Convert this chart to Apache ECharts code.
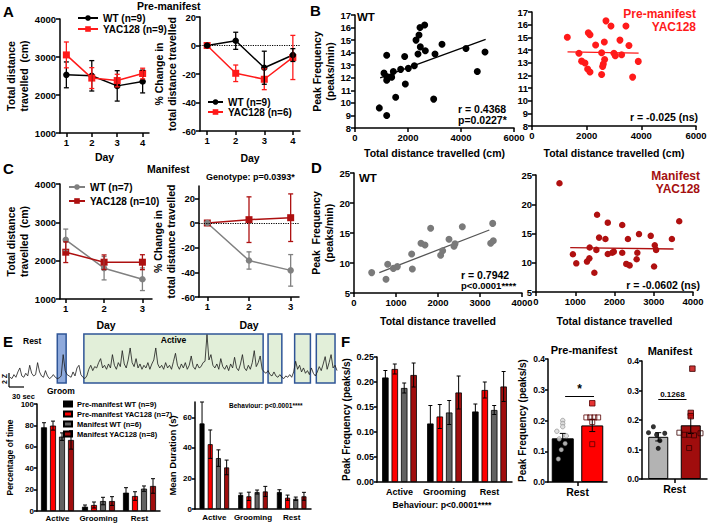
<!DOCTYPE html>
<html>
<head>
<meta charset="utf-8">
<title>Figure</title>
<script src="https://cdn.jsdelivr.net/npm/echarts@6.0.0/dist/echarts.min.js"></script>
<style>
html,body{margin:0;padding:0;background:#ffffff;}
#chart{width:709px;height:525px;}
</style>
</head>
<body>
<div id="chart"></div>
<script>
// ================= DATA =================
const days4 = [1, 2, 3, 4];
const days3 = [1, 2, 3];
// A – pre-manifest, total distance (cm): mean and SEM
const preDistWT = [2530, 2505, 2240, 2355];
const preDistWTSem = [340, 400, 400, 300];
const preDistYAC = [3055, 2445, 2380, 2565];
const preDistYACSem = [340, 275, 165, 140];
// A – % change in total distance
const prePctWT = [0, 3.3, -15.6, -6.7];
const prePctWTSem = [0, 6, 11.6, 4.5];
const prePctYAC = [0, -19.5, -23.7, -8.4];
const prePctYACSem = [0, 5.8, 7.3, 15.5];
// C – manifest
const manDistWT = [2544, 1803, 1515];
const manDistWTSem = [280, 305, 295];
const manDistYAC = [2221, 1960, 1960];
const manDistYACSem = [270, 190, 195];
const manPctWT = [0, -30.4, -38.4];
const manPctWTSem = [0, 7, 12.8];
const manPctYAC = [0, 2.7, 4.3];
const manPctYACSem = [0, 18.5, 19.3];
// B – peak frequency vs distance (pre-manifest)
const bWT = [[918,9.6],[1196,9.0],[1094,12.37],[1196,12.1],[1196,11.8],[1196,13.8],[1384,12.05],[1447,12.5],[1535,10.45],[1723,12.67],[1874,13.7],[1899,11.5],[2013,12.75],[2239,12.96],[2302,15.0],[2415,15.4],[2453,16.0],[2629,16.2],[2465,14.46],[2377,13.9],[2654,14.15],[3019,13.9],[2969,10.3],[3283,14.67],[4188,14.33],[4906,14.05],[4615,12.5]];
const bWTFit = [[950,12.0],[4930,15.05]];
const bYAC = [[1292,15.0],[1718,13.75],[1816,13.12],[1938,12.97],[2036,12.5],[2121,12.26],[2060,15.36],[2121,15.2],[2328,14.4],[2547,13.78],[2645,14.63],[2706,16.3],[2657,13.25],[2608,12.9],[2584,12.7],[2547,12.07],[2889,15.9],[2998,13.74],[3047,13.55],[3218,14.78],[3279,13.62],[3437,15.9],[3547,14.36],[3681,11.86],[3888,13.1]];
const bYACFit = [[1300,13.85],[3900,13.75]];
// D – manifest
const dWT = [[421,8.4],[762,7.3],[802,9.8],[937,9.1],[1032,9.4],[1373,11.5],[1389,9.0],[1595,13.3],[1690,13.0],[1825,15.8],[2063,11.3],[2111,12.05],[2262,13.95],[2381,12.8],[2405,13.2],[2579,16.05],[3302,16.6],[3254,13.3],[3317,13.7]];
const dWTFit = [[603,8.4],[3222,15.5]];
const dYAC = [[598,23.6],[940,11.45],[1026,9.9],[1299,10.2],[1359,10.75],[1367,12.6],[1487,8.3],[1556,18.2],[1607,14.3],[1538,12.2],[1769,14.05],[1829,16.85],[1829,11.5],[1941,11.7],[1982,11.9],[2197,16.45],[2197,11.7],[2300,9.8],[2385,9.55],[2342,14.05],[2582,11.7],[2624,14.9],[2564,10.6],[2923,14.6],[3026,13.0],[3060,12.2],[3008,9.35],[3462,14.05],[3649,17.1]];
const dYACFit = [[872,12.6],[3505,12.35]];
// E – example trace (z-scored) and behaviour epochs (trace sample index)
const trace = [0.2,0.1,0.4,0.2,0.6,0.9,0.3,0.2,0.5,0.3,1.1,0.5,0.3,0.4,1.3,0.6,0.3,0.2,0.7,0.3,0.1,0.2,0.4,0.2,0.1,0.15,
  0.3,1.9,0.7,0.4,0.3,
  0.2,0.6,0.3,0.9,1.1,0.4,0.2,0.1,0.3,
  0.8,1.1,0.7,1.0,0.9,1.3,1.6,0.9,1.1,0.8,
  1.2,0.9,1.9,1.1,0.8,1.3,1.0,2.2,1.2,0.9,
  1.5,2.4,1.3,1.0,1.6,0.9,1.2,0.8,1.1,0.9,
  1.3,0.8,1.2,1.5,2.4,1.2,0.9,1.1,0.8,1.3,
  0.9,1.1,0.8,1.4,2.0,1.1,0.8,1.2,0.9,1.3,
  0.8,1.1,1.8,1.0,0.8,1.2,0.9,1.0,1.3,1.4,
  3.4,1.5,1.9,1.1,0.9,1.2,0.8,1.6,1.0,0.8,
  1.1,0.7,1.2,0.9,1.7,0.9,0.7,1.2,1.9,0.9,
  0.7,1.1,0.8,1.3,2.2,1.0,1.3,1.8,0.8,0.6,
  0.5,0.7,0.4,0.3,0.6,0.3,0.2,0.4,0.2,0.1,
  0.3,0.2,0.4,0.2,0.6,1.4,0.8,1.1,0.6,0.9,
  0.5,0.7,0.4,0.9,0.5,0.3,0.6,1.0,0.7,1.2,
  1.75,0.8,1.3,1.9,0.9,1.1,0.7];
const epochStart = [24, 37.5, 131, 144.5, 155.5];
const epochEnd = [28.5, 128.5, 138, 152.5, 165];
const epochKind = ['groom', 'Active', 'active', 'active', 'active'];
// E / F grouped bars
const behaviours = ['Active', 'Grooming', 'Rest'];
const groupNames = ['Pre-manifest WT (n=9)', 'Pre-manifest YAC128 (n=7)', 'Manifest WT (n=6)', 'Manifest YAC128 (n=8)'];
const timeMean = [[78.2,4.0,17.1],[79.8,5.6,14.0],[69.5,9.3,20.9],[66.4,9.3,23.4]];
const timeSem = [[4.3,1.6,4.7],[4.2,2.8,4.0],[3.5,3.5,2.5],[8.6,4.1,6.8]];
const durMean = [[56,9.3,11.1],[42.4,8.3,7.4],[33.3,11.1,6.7],[27.2,11.5,8.3]];
const durSem = [[14,1.1,1.5],[9.3,2.7,1.7],[5.4,1.3,1.1],[4.8,3.3,2.6]];
const freqMean = [[0.209,0.117,0.141],[0.226,0.131,0.184],[0.188,0.139,0.144],[0.214,0.179,0.191]];
const freqSem = [[0.014,0.036,0.015],[0.010,0.024,0.016],[0.010,0.024,0.009],[0.024,0.033,0.030]];
// F – rest peak frequency per animal
const groupPos = [0.5, 1.5];
const restPreMean = [0.142, 0.184];
const restPreSem = [0.016, 0.020];
const restManMean = [0.143, 0.182];
const restManSem = [0.014, 0.028];
const preWTDots = [0.2, 0.19, 0.18, 0.165, 0.15, 0.14, 0.125, 0.105, 0.075];
const preWTJit = [0.5, 0.5, 0.5, 0.3, 0.62, 0.38, 0.58, 0.45, 0.35];
const preYACHollow = [0.21, 0.21, 0.21, 0.21, 0.195, 0.123];
const preYACHollowJit = [1.3, 1.43, 1.57, 1.7, 1.5, 1.5];
const preYACFilled = [0.256];
const preYACFilledJit = [1.5];
const manWTDots = [0.177, 0.157, 0.155, 0.15, 0.13, 0.104];
const manWTJit = [0.35, 0.2, 0.7, 0.45, 0.55, 0.5];
const manYACFilled = [0.374, 0.224, 0.213];
const manYACFilledJit = [1.55, 1.5, 1.5];
const manYACHollow = [0.157, 0.15, 0.15, 0.148, 0.155, 0.105];
const manYACHollowJit = [1.15, 1.3, 1.45, 1.6, 1.8, 1.45];

// ================= STYLE =================
const FONT = "'Liberation Sans', Arial, Helvetica, sans-serif";
const C_WT = '#000000', C_YAC = '#ff1a1a', C_MWT = '#808080', C_MYAC = '#ad1010';
const groupColors = ['#000000', '#ff0000', '#626262', '#a00d0d'];
const plain = v => String(v);

function merge(a, b) {
  const o = Object.assign({}, a);
  for (const k in b) {
    const v = b[k];
    if (v && typeof v === 'object' && !Array.isArray(v) && a[k] && typeof a[k] === 'object' && !Array.isArray(a[k])) o[k] = merge(a[k], v);
    else o[k] = v;
  }
  return o;
}
function ax(gi, o) {
  return merge({
    gridIndex: gi,
    axisLine: {show: true, onZero: false, lineStyle: {color: '#000', width: 1.5}},
    axisTick: {show: true, length: 4, lineStyle: {color: '#000', width: 1.5}},
    axisLabel: {color: '#000', fontWeight: 'bold', fontSize: 9.5, fontFamily: FONT, margin: 4},
    splitLine: {show: false},
    nameTextStyle: {color: '#000', fontWeight: 'bold', fontSize: 10.5, fontFamily: FONT, lineHeight: 13}
  }, o);
}
function errSeries(xi, data, color, offset, cap, lw) {
  return {
    type: 'custom', xAxisIndex: xi, yAxisIndex: xi, z: 5, silent: true,
    data: data,
    renderItem: function (p, api) {
      const x = api.value(0), lo = api.value(1), hi = api.value(2);
      const a = api.coord([x, hi]), b = api.coord([x, lo]);
      const cx = a[0] + offset;
      const st = {stroke: color, lineWidth: lw};
      return {type: 'group', children: [
        {type: 'line', shape: {x1: cx, y1: a[1], x2: cx, y2: b[1]}, style: st},
        {type: 'line', shape: {x1: cx - cap, y1: a[1], x2: cx + cap, y2: a[1]}, style: st},
        {type: 'line', shape: {x1: cx - cap, y1: b[1], x2: cx + cap, y2: b[1]}, style: st}
      ]};
    }
  };
}
function linePanel(idx, xs, m, s, name, color, symbol, extra) {
  const main = merge({
    type: 'line', name: name, xAxisIndex: idx, yAxisIndex: idx,
    data: xs.map((x, i) => [x, m[i]]),
    symbol: symbol, symbolSize: symbol === 'rect' ? 7 : 6.5,
    lineStyle: {color: color, width: 1.5}, itemStyle: {color: color}, z: 4
  }, extra || {});
  const err = errSeries(idx, xs.map((x, i) => [x, m[i] - s[i], m[i] + s[i]]).filter((d, i) => s[i] > 0), color, 0, 2.5, 1.3);
  return [main, err];
}
const zeroLine = {silent: true, symbol: 'none', label: {show: false}, lineStyle: {color: '#000', type: 'dotted', width: 1.2}, data: [{yAxis: 0}]};

// ================= GRIDS =================
const grids = [
  {left: 60, top: 19, width: 89, height: 114},    // 0 A left
  {left: 200, top: 17, width: 100, height: 114},  // 1 A right
  {left: 355, top: 15, width: 159, height: 113},  // 2 B left
  {left: 532, top: 12, width: 164, height: 114},  // 3 B right
  {left: 60, top: 184, width: 92, height: 115},   // 4 C left
  {left: 199, top: 186, width: 100, height: 111}, // 5 C right
  {left: 354, top: 173, width: 168, height: 120}, // 6 D left
  {left: 536, top: 175, width: 157, height: 117}, // 7 D right
  {left: 10, top: 334, width: 327, height: 49},   // 8 E trace
  {left: 37, top: 404, width: 123, height: 107},  // 9 E % time
  {left: 195, top: 402, width: 116, height: 107}, // 10 E duration
  {left: 377, top: 357, width: 135, height: 125}, // 11 F freq
  {left: 548, top: 359, width: 59, height: 123},  // 12 F pre
  {left: 642, top: 361, width: 65, height: 118}   // 13 F manifest
].map(g => Object.assign({outerBoundsMode: 'none', containLabel: false, show: false}, g));

const dayAxis = (gi, min, max, vals, gap) => ax(gi, {type: 'value', min: min, max: max,
  axisTick: {customValues: vals}, axisLabel: {customValues: vals, formatter: plain}, name: 'Day', nameLocation: 'middle', nameGap: gap});

const xAxes = [
  dayAxis(0, 0.75, 4.25, days4, 17),
  dayAxis(1, 0.75, 4.25, days4, 20),
  ax(2, {type: 'value', min: 0, max: 6000, interval: 2000, axisLabel: {formatter: plain}, name: 'Total distance travelled (cm)', nameLocation: 'middle', nameGap: 18}),
  ax(3, {type: 'value', min: 0, max: 6000, interval: 2000, axisLabel: {formatter: plain}, name: 'Total distance travelled (cm)', nameLocation: 'middle', nameGap: 20}),
  dayAxis(4, 0.85, 3.25, days3, 19),
  dayAxis(5, 0.8, 3.2, days3, 21),
  ax(6, {type: 'value', min: 0, max: 4000, interval: 1000, axisLabel: {formatter: plain}, name: 'Total distance travelled', nameLocation: 'middle', nameGap: 21}),
  ax(7, {type: 'value', min: 0, max: 4000, interval: 1000, axisLabel: {formatter: plain}, name: 'Total distance travelled', nameLocation: 'middle', nameGap: 22}),
  {gridIndex: 8, type: 'value', min: 0, max: trace.length - 1, show: false},
  ax(9, {type: 'category', data: behaviours, axisTick: {show: false}, axisLabel: {fontSize: 8, margin: 3, interval: 0}}),
  ax(10, {type: 'category', data: behaviours, axisTick: {show: false}, axisLabel: {fontSize: 8, margin: 4, interval: 0}}),
  ax(11, {type: 'category', data: behaviours, axisTick: {show: false}, axisLabel: {fontSize: 9, margin: 5, interval: 0}}),
  ax(12, {type: 'value', min: 0, max: 2, axisTick: {customValues: [1]}, axisLabel: {customValues: [1], formatter: () => 'Rest', fontSize: 10.5, margin: 4}}),
  ax(13, {type: 'value', min: 0, max: 2, axisTick: {customValues: [1]}, axisLabel: {customValues: [1], formatter: () => 'Rest', fontSize: 10.5, margin: 4}})
];
const yAxes = [
  ax(0, {type: 'value', min: 1000, max: 4000, interval: 1000, axisLabel: {formatter: plain}, name: 'Total distance\ntravelled  (cm)', nameLocation: 'middle', nameGap: 27}),
  ax(1, {type: 'value', min: -60, max: 20, interval: 20, name: '% Change in\ntotal distance travelled', nameLocation: 'middle', nameGap: 17}),
  ax(2, {type: 'value', min: 8, max: 17, interval: 1, name: 'Peak Frequency\n(peaks/min)', nameLocation: 'middle', nameGap: 17}),
  ax(3, {type: 'value', min: 8, max: 17, interval: 1}),
  ax(4, {type: 'value', min: 1000, max: 4000, interval: 1000, axisLabel: {formatter: plain}, name: 'Total distance\ntravelled  (cm)', nameLocation: 'middle', nameGap: 25}),
  ax(5, {type: 'value', min: -60, max: 30, axisTick: {customValues: [-60, -40, -20, 0, 20]}, axisLabel: {customValues: [-60, -40, -20, 0, 20]}, name: '% Change in\ntotal distance travelled', nameLocation: 'middle', nameGap: 17}),
  ax(6, {type: 'value', min: 5, max: 25, interval: 5, name: 'Peak  Frequency\n(peaks/min)', nameLocation: 'middle', nameGap: 13}),
  ax(7, {type: 'value', min: 5, max: 25, interval: 5}),
  {gridIndex: 8, type: 'value', min: -0.23, max: 3.45, show: false},
  ax(9, {type: 'value', min: 0, max: 100, interval: 20, axisLabel: {fontSize: 8, margin: 3}, axisTick: {length: 3}, name: 'Percentage of time', nameLocation: 'middle', nameGap: 19, nameTextStyle: {fontSize: 8.5}}),
  ax(10, {type: 'value', min: 0, max: 70, axisTick: {customValues: [0, 20, 40, 60], length: 3}, axisLabel: {customValues: [0, 20, 40, 60], fontSize: 8, margin: 3}, name: 'Mean Duration (s)', nameLocation: 'middle', nameGap: 15, nameTextStyle: {fontSize: 9.5}}),
  ax(11, {type: 'value', min: 0, max: 0.25, interval: 0.05, axisLabel: {formatter: v => v.toFixed(2), fontSize: 9, margin: 3}, axisTick: {length: 3}, name: 'Peak Frequency (peaks/s)', nameLocation: 'middle', nameGap: 23, nameTextStyle: {fontSize: 10}}),
  ax(12, {type: 'value', min: 0, max: 0.4, interval: 0.1, axisLabel: {formatter: v => v.toFixed(1), fontSize: 8.5, margin: 3}, axisTick: {length: 3}, name: 'Peak Frequency (peaks/s)', nameLocation: 'middle', nameGap: 16, nameTextStyle: {fontSize: 10}}),
  ax(13, {type: 'value', min: 0, max: 0.4, interval: 0.1, axisLabel: {formatter: v => v.toFixed(1), fontSize: 8.5, margin: 3}, axisTick: {length: 3}})
];

// ================= SERIES =================
let S = [];
// A
S = S.concat(linePanel(0, days4, preDistWT, preDistWTSem, 'WT (n=9)', C_WT, 'circle'));
S = S.concat(linePanel(0, days4, preDistYAC, preDistYACSem, 'YAC128 (n=9)', C_YAC, 'rect'));
S = S.concat(linePanel(1, days4, prePctYAC, prePctYACSem, 'YAC128 (n=6)', C_YAC, 'rect', {markLine: zeroLine}));
S = S.concat(linePanel(1, days4, prePctWT, prePctWTSem, 'WT (n=9)', C_WT, 'circle'));
// C
S = S.concat(linePanel(4, days3, manDistWT, manDistWTSem, 'WT (n=7)', C_MWT, 'circle'));
S = S.concat(linePanel(4, days3, manDistYAC, manDistYACSem, 'YAC128 (n=10)', C_MYAC, 'rect'));
S = S.concat(linePanel(5, days3, manPctYAC, manPctYACSem, 'YAC128 (n=10)', C_MYAC, 'rect', {markLine: zeroLine}));
S = S.concat(linePanel(5, days3, manPctWT, manPctWTSem, 'WT (n=7)', C_MWT, 'circle'));
// B, D scatters
function scat(idx, data, color, size) {
  return {type: 'scatter', xAxisIndex: idx, yAxisIndex: idx, data: data, symbolSize: size, itemStyle: {color: color, opacity: 1}, z: 3};
}
function fit(idx, data, color) {
  return {type: 'line', xAxisIndex: idx, yAxisIndex: idx, data: data, symbol: 'none', lineStyle: {color: color, width: 1.3}, z: 2};
}
S.push(scat(2, bWT, '#000', 7), fit(2, bWTFit, '#000'));
S.push(scat(3, bYAC, '#ff1a1a', 7), fit(3, bYACFit, '#ff1a1a'));
S.push(scat(6, dWT, '#7a7a7a', 7), fit(6, dWTFit, '#555'));
S.push(scat(7, dYAC, '#b01010', 6.5), fit(7, dYACFit, '#b01010'));
// E trace
S.push({
  type: 'line', xAxisIndex: 8, yAxisIndex: 8, data: trace.map((v, i) => [i, v]),
  symbol: 'none', lineStyle: {color: '#1a1a1a', width: 0.8}, z: 3,
  markArea: {
    silent: true,
    itemStyle: {color: '#e2efd9', borderColor: '#2f5597', borderWidth: 1.5},
    label: {show: true, position: 'insideTop', distance: 2, color: '#000', fontWeight: 'bold', fontSize: 8.5, fontFamily: FONT},
    data: epochStart.map((s, i) => [
      {xAxis: s, name: epochKind[i] === 'Active' ? 'Active' : '', itemStyle: epochKind[i] === 'groom' ? {color: '#8faadc'} : {}},
      {xAxis: epochEnd[i]}
    ])
  }
});
// E / F grouped bars
function groupedBars(idx, means, sems, barW, gapPct) {
  const pitch = barW * (1 + gapPct / 100);
  groupNames.forEach((n, g) => {
    S.push({type: 'bar', name: n, xAxisIndex: idx, yAxisIndex: idx, data: means[g], barWidth: barW, barGap: gapPct + '%',
      itemStyle: {color: groupColors[g], borderColor: '#000', borderWidth: 0.8}, z: 2});
    S.push(errSeries(idx, means[g].map((v, c) => [c, v - sems[g][c], v + sems[g][c]]), '#000', (g - 1.5) * pitch, 2, 1));
  });
}
groupedBars(9, timeMean, timeSem, 6, 50);
groupedBars(10, durMean, durSem, 5, 64);
groupedBars(11, freqMean, freqSem, 6.5, 45);
// F pre-manifest rest
const bracketLabel = (txt, size) => ({show: true, position: 'insideMiddleTop', distance: 1, formatter: txt, color: '#000', fontWeight: 'bold', fontSize: size, fontFamily: FONT});
S.push({type: 'bar', xAxisIndex: 12, yAxisIndex: 12, barWidth: 22,
  itemStyle: {borderColor: '#000', borderWidth: 1},
  data: [{value: [groupPos[0], restPreMean[0]], itemStyle: {color: '#000'}}, {value: [groupPos[1], restPreMean[1]], itemStyle: {color: '#ff0000'}}],
  markLine: {silent: true, symbol: 'none', lineStyle: {color: '#000', width: 1, type: 'solid'}, label: bracketLabel('*', 12),
    data: [[{coord: [0.58, 0.28]}, {coord: [1.56, 0.28]}]]}, z: 2});
S.push(errSeries(12, groupPos.map((x, i) => [x, restPreMean[i] - restPreSem[i], restPreMean[i] + restPreSem[i]]), '#000', 0, 3, 1));
S.push({type: 'scatter', xAxisIndex: 12, yAxisIndex: 12, data: preWTDots.map((v, i) => [preWTJit[i], v]), symbolSize: 4.5, itemStyle: {color: '#d9d9d9', borderColor: '#555', borderWidth: 0.5}, z: 6});
S.push({type: 'scatter', xAxisIndex: 12, yAxisIndex: 12, data: preYACHollow.map((v, i) => [preYACHollowJit[i], v]), symbol: 'rect', symbolSize: 5, itemStyle: {color: 'rgba(0,0,0,0)', borderColor: '#5a0000', borderWidth: 1}, z: 6});
S.push({type: 'scatter', xAxisIndex: 12, yAxisIndex: 12, data: preYACFilled.map((v, i) => [preYACFilledJit[i], v]), symbol: 'rect', symbolSize: 5.5, itemStyle: {color: '#e00000', borderColor: '#5a0000', borderWidth: 1}, z: 6});
// F manifest rest
S.push({type: 'bar', xAxisIndex: 13, yAxisIndex: 13, barWidth: 20,
  itemStyle: {borderColor: '#000', borderWidth: 1},
  data: [{value: [groupPos[0], restManMean[0]], itemStyle: {color: '#b3b3b3'}}, {value: [groupPos[1], restManMean[1]], itemStyle: {color: '#a00d0d'}}],
  markLine: {silent: true, symbol: 'none', lineStyle: {color: '#000', width: 1, type: 'solid'}, label: bracketLabel('0.1268', 8),
    data: [[{coord: [0.5, 0.27]}, {coord: [1.37, 0.27]}]]}, z: 2});
S.push(errSeries(13, groupPos.map((x, i) => [x, restManMean[i] - restManSem[i], restManMean[i] + restManSem[i]]), '#000', 0, 3, 1));
S.push({type: 'scatter', xAxisIndex: 13, yAxisIndex: 13, data: manWTDots.map((v, i) => [manWTJit[i], v]), symbolSize: 5, itemStyle: {color: '#000'}, z: 6});
S.push({type: 'scatter', xAxisIndex: 13, yAxisIndex: 13, data: manYACHollow.map((v, i) => [manYACHollowJit[i], v]), symbol: 'rect', symbolSize: 5, itemStyle: {color: 'rgba(0,0,0,0)', borderColor: '#3a0000', borderWidth: 1}, z: 6});
S.push({type: 'scatter', xAxisIndex: 13, yAxisIndex: 13, data: manYACFilled.map((v, i) => [manYACFilledJit[i], v]), symbol: 'rect', symbolSize: 5.5, itemStyle: {color: '#c00000', borderColor: '#3a0000', borderWidth: 1}, z: 6});

// ================= TEXT =================
function tx(text, x, y, size, o) {
  o = o || {};
  return {type: 'text', x: x, y: y, rotation: o.rot || 0, z: 50, silent: true,
    style: {text: text, fill: o.color || '#000', fontSize: size, fontWeight: 'bold', fontFamily: FONT,
      textAlign: o.align || 'left', textVerticalAlign: 'middle', align: o.align || 'left', verticalAlign: 'middle'}};
}
function ln(x1, y1, x2, y2, w) {
  return {type: 'line', z: 50, silent: true, shape: {x1: x1, y1: y1, x2: x2, y2: y2}, style: {stroke: '#000', lineWidth: w || 1.2}};
}
const graphics = [
  tx('A', 3, 11, 15), tx('Pre-manifest', 137, 6, 10.5),
  tx('B', 310, 10, 15), tx('WT', 357, 17, 11.5),
  tx('r = 0.4368', 458, 108.5, 10.5), tx('p=0.0227*', 458, 119.5, 10.5),
  tx('Pre-manifest', 696, 13.5, 12, {align: 'right', color: '#ff1a1a'}), tx('YAC128', 696, 26.5, 12, {align: 'right', color: '#ff1a1a'}),
  tx('r = -0.025 (ns)', 698, 117, 10.5, {align: 'right'}),
  tx('C', 3, 168, 15), tx('Manifest', 147, 169, 10.5), tx('Genotype: p=0.0393*', 206, 177, 9),
  tx('D', 311, 167, 15), tx('WT', 359, 178, 11.5),
  tx('r = 0.7942', 461, 275, 10.5), tx('p<0.0001****', 461, 285.5, 9.5),
  tx('Manifest', 700, 175.5, 12, {align: 'right', color: '#a50f0f'}), tx('YAC128', 700, 188.5, 12, {align: 'right', color: '#a50f0f'}),
  tx('r = -0.0602 (ns)', 700, 285, 10.5, {align: 'right'}),
  tx('E', 3, 341, 15), tx('Rest', 23, 341, 8.5), tx('Groom', 47, 391, 8.5), tx('30 sec', 12, 396, 7.5),
  tx('2 Z', 4, 379, 7, {rot: Math.PI / 2, align: 'center'}),
  ln(9, 373, 9, 387), ln(9, 387, 24, 387),
  tx('Behaviour: p<0.0001****', 229, 405, 6.5),
  tx('F', 341, 341, 15),
  tx('Behaviour: p<0.0001****', 442, 505, 8.75, {align: 'center'}),
  tx('Pre-manifest', 584, 350, 11, {align: 'center'}),
  tx('Manifest', 670, 351, 11, {align: 'center'})
];

const legendText = {color: '#000', fontWeight: 'bold', fontSize: 10, fontFamily: FONT};
const option = {
  animation: false,
  backgroundColor: '#ffffff',
  textStyle: {fontFamily: FONT},
  grid: grids,
  xAxis: xAxes,
  yAxis: yAxes,
  legend: [
    {data: ['WT (n=9)', 'YAC128 (n=9)'], orient: 'vertical', left: 77, top: 13, padding: 0, itemWidth: 20, itemHeight: 7, itemGap: 1, selectedMode: false, textStyle: legendText},
    {data: ['WT (n=9)', 'YAC128 (n=6)'], orient: 'vertical', left: 207, top: 97, padding: 0, itemWidth: 15, itemHeight: 7, itemGap: 0, selectedMode: false, textStyle: legendText},
    {data: ['WT (n=7)', 'YAC128 (n=10)'], orient: 'vertical', left: 68, top: 182, padding: 0, itemWidth: 16, itemHeight: 7, itemGap: 4, selectedMode: false, textStyle: legendText},
    {data: groupNames, orient: 'vertical', left: 63, top: 400, padding: 0, itemWidth: 8, itemHeight: 5, itemGap: 2, icon: 'rect', selectedMode: false, textStyle: Object.assign({}, legendText, {fontSize: 7.5})}
  ],
  graphic: graphics,
  series: S
};
const chart = echarts.init(document.getElementById('chart'), null, {renderer: 'svg', width: 709, height: 525});
chart.setOption(option);
</script>
</body>
</html>
